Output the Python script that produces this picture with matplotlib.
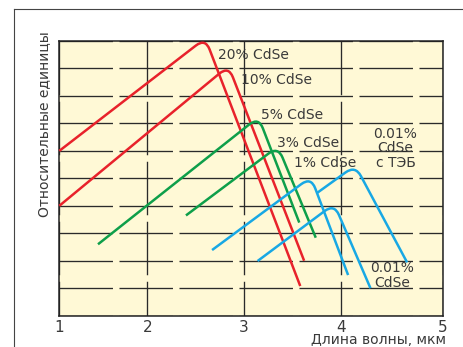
import numpy as np
import matplotlib
matplotlib.use('Agg')
import matplotlib.pyplot as plt
from matplotlib.path import Path
from matplotlib.patches import PathPatch
from matplotlib.lines import Line2D

plt.rcParams['font.family'] = ['DejaVu Sans']
plt.rcParams['lines.scale_dashes'] = False

# Длина волны (мкм) и уровень (отн. ед.): начало, вершина, конец каждой кривой
wl_20 = [1.0, 2.6, 3.58]
lvl_20 = [6.0, 10.1, 1.08]
wl_10 = [1.0, 2.84, 3.62]
lvl_10 = [4.0, 9.09, 2.0]
wl_5 = [1.44, 3.15, 3.57]
lvl_5 = [2.6, 7.23, 3.39]
wl_3 = [2.40, 3.35, 3.74]
lvl_3 = [3.65, 6.16, 2.84]
wl_1 = [2.67, 3.69, 4.07]
lvl_1 = [2.39, 5.05, 1.48]
wl_001 = [3.14, 3.93, 4.29]
lvl_001 = [1.99, 4.07, 1.0]
wl_teb = [3.75, 4.14, 4.65]
lvl_teb = [4.46, 5.47, 1.94]

x_ticks = [1, 2, 3, 4, 5]
# шкала на исходном графике размечена неравномерно
x_tick_frac = [0.0, 0.2295, 0.4817, 0.7347, 1.0]

RED = '#E8222B'
GREEN = '#0E9F4A'
BLUE = '#18A8E4'
INK = '#3a3a3a'


def fwd(x):
    return np.interp(x, x_ticks, x_tick_frac)


def inv(f):
    return np.interp(f, x_tick_frac, x_ticks)


fig = plt.figure(figsize=(4.64, 3.47), dpi=100)
ax = fig.add_axes([0.1278, 0.0902, 0.8263, 0.7916])
ax.set_xscale('function', functions=(fwd, inv))
ax.set_xlim(1, 5)
ax.set_ylim(0, 10)
ax.set_facecolor('#FFF9D6')

ax.set_xticks(x_ticks)
ax.set_xticklabels([str(t) for t in x_ticks])
ax.set_yticks(np.arange(0, 11, 1))
ax.tick_params(axis='x', length=0, pad=3.2, labelsize=11, labelcolor=INK)
ax.tick_params(axis='y', length=0, labelleft=False)

# штриховая сетка: горизонтали от левого края, вертикали от верхнего
ax.yaxis.grid(True, color='#2a2a2a', lw=0.95, linestyle=(0, (38.5, 4.7)))
ax.xaxis.grid(True, color='#2a2a2a', lw=0.95, linestyle=(13.5, (38.5, 4.7)))
ax.set_axisbelow(True)
for s in ax.spines.values():
    s.set_color('#222222')
    s.set_linewidth(1.1)


def peak_curve(xs, ys, color, r=12):
    # прямой подъём, скруглённая вершина, крутой спад
    pts = ax.transData.transform(np.column_stack([xs, ys]))
    a, p, b = pts
    u = (a - p) / np.hypot(*(a - p))
    w = (b - p) / np.hypot(*(b - p))
    verts = ax.transData.inverted().transform([a, p + r * u, p, p + r * w, b])
    codes = [Path.MOVETO, Path.LINETO, Path.CURVE3, Path.CURVE3, Path.LINETO]
    patch = PathPatch(Path(verts, codes), fill=False, edgecolor=color,
                      lw=1.8, capstyle='butt', joinstyle='round',
                      clip_on=False, zorder=3)
    ax.add_patch(patch)


peak_curve(wl_20, lvl_20, RED)
peak_curve(wl_10, lvl_10, RED)
peak_curve(wl_5, lvl_5, GREEN)
peak_curve(wl_3, lvl_3, GREEN)
peak_curve(wl_1, lvl_1, BLUE)
peak_curve(wl_001, lvl_001, BLUE)
peak_curve(wl_teb, lvl_teb, BLUE)

lbl = dict(fontsize=10, color=INK, va='baseline', zorder=4)
ax.text(2.73, 9.36, '20% CdSe', ha='left', **lbl)
ax.text(2.966, 8.43, '10% CdSe', ha='left', **lbl)
ax.text(3.175, 7.16, '5% CdSe', ha='left', **lbl)
ax.text(3.337, 6.14, '3% CdSe', ha='left', **lbl)
ax.text(3.515, 5.43, '1% CdSe', ha='left', **lbl)
ax.text(4.536, 5.42, '0.01%\nCdSe\nс ТЭБ', ha='center', multialignment='center',
        linespacing=1.03, **lbl)
ax.text(4.50, 1.06, '0.01%\nCdSe', ha='center', multialignment='center',
        linespacing=1.03, **lbl)

fig.text(44 / 464, 1 - 124.5 / 347, 'Относительные единицы', rotation=90,
         ha='center', va='center', fontsize=10, color=INK)
fig.text(446 / 464, 1 - 344.3 / 347, 'Длина волны, мкм', ha='right',
         va='baseline', fontsize=10, color=INK)

# рамка вокруг рисунка
fig.add_artist(Line2D([14 / 464, 1], [1 - 9 / 347] * 2, transform=fig.transFigure,
                      color='#444444', lw=0.8))
fig.add_artist(Line2D([14 / 464] * 2, [0, 1 - 9 / 347], transform=fig.transFigure,
                      color='#444444', lw=0.8))

fig.savefig('out.png', dpi=100)
